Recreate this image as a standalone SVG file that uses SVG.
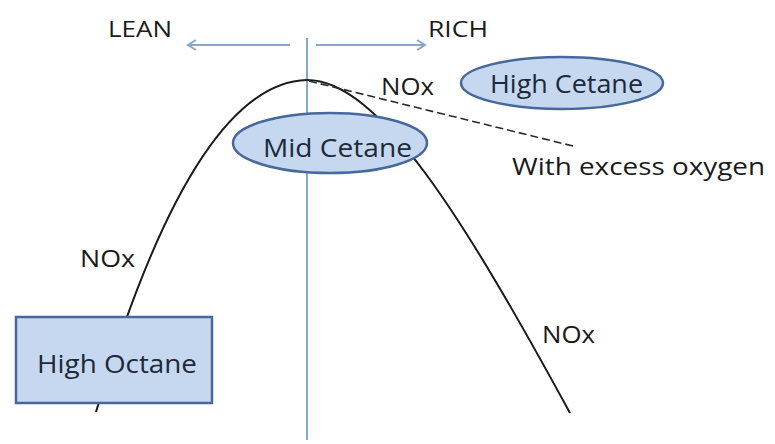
<svg xmlns="http://www.w3.org/2000/svg" width="775" height="444" viewBox="0 0 775 444">
<style>
.lbl{font-family:"Open Sans","Liberation Sans",sans-serif;fill:#1a1a1a}
.ntx{font-family:"Open Sans","Liberation Sans",sans-serif;fill:#1c2a3a}
.node{fill:#c6d8f0;stroke:#46689a;stroke-width:2.5}
.axis{stroke:#86a8cf;stroke-width:2;fill:none}
.curve{stroke:#1a1a1a;stroke-width:2;fill:none}
</style>
<defs>
<marker id="ah" markerWidth="12" markerHeight="12" refX="10" refY="6" orient="auto" markerUnits="userSpaceOnUse">
<path d="M2,1 L10,6 L2,11" fill="none" stroke="#86a8cf" stroke-width="2"/>
</marker>
</defs>
<g id="connectors">
<line class="axis" x1="307" y1="38" x2="307" y2="440"/>
<line class="axis" x1="290" y1="45" x2="188" y2="45" marker-end="url(#ah)"/>
<line class="axis" x1="316" y1="45" x2="425" y2="45" marker-end="url(#ah)"/>
<path class="curve" d="M96 412 C150 230, 220 82, 307 80"/>
<path class="curve" d="M307 80 C378 80, 462 215, 570 413"/>
<line x1="309" y1="81" x2="577" y2="147" stroke="#2a2a2a" stroke-width="1.6" stroke-dasharray="8 4"/>
</g>
<g id="labels">
<text class="lbl" x="108" y="37" font-size="22" textLength="64" lengthAdjust="spacingAndGlyphs">LEAN</text>
<text class="lbl" x="428" y="37" font-size="22" textLength="60" lengthAdjust="spacingAndGlyphs">RICH</text>
<text class="lbl" x="381" y="95" font-size="23" textLength="53" lengthAdjust="spacingAndGlyphs">NOx</text>
<text class="lbl" x="80" y="267" font-size="23" textLength="55" lengthAdjust="spacingAndGlyphs">NOx</text>
<text class="lbl" x="542" y="343" font-size="23" textLength="53" lengthAdjust="spacingAndGlyphs">NOx</text>
<text class="lbl" x="512" y="175" font-size="24" textLength="253" lengthAdjust="spacingAndGlyphs">With excess oxygen</text>
</g>
<g id="high-cetane">
<ellipse class="node" cx="562" cy="83" rx="101" ry="26"/>
<text class="ntx" x="490" y="93" font-size="25" textLength="153" lengthAdjust="spacingAndGlyphs">High Cetane</text>
</g>
<g id="mid-cetane">
<ellipse class="node" cx="330" cy="143" rx="97" ry="30"/>
<text class="ntx" x="263" y="157" font-size="25" textLength="149" lengthAdjust="spacingAndGlyphs">Mid Cetane</text>
</g>
<g id="high-octane">
<rect class="node" x="16" y="317" width="196" height="86"/>
<text class="ntx" x="37" y="373" font-size="26" textLength="160" lengthAdjust="spacingAndGlyphs">High Octane</text>
</g>
</svg>
